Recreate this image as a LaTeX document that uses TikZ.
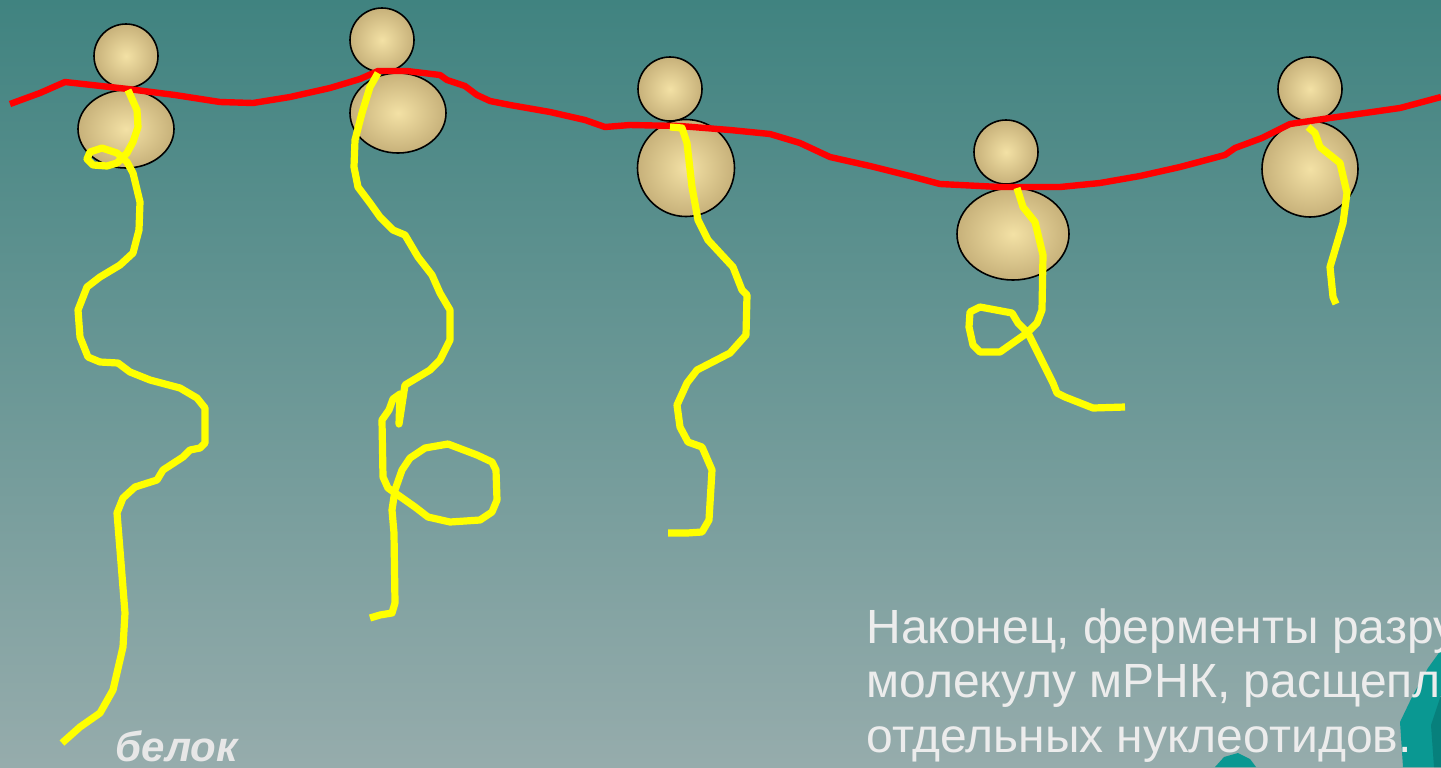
\documentclass[tikz,border=0pt]{standalone}
\usepackage{fontspec}
\setmainfont{Liberation Sans}
\usetikzlibrary{shapes.geometric}

\definecolor{bgtop}{RGB}{64,131,128}
\definecolor{bgbot}{RGB}{150,172,172}
\definecolor{ribolight}{RGB}{243,225,165}
\definecolor{ribodark}{RGB}{199,177,122}
\definecolor{mrna}{RGB}{255,0,0}
\definecolor{chain}{RGB}{255,255,0}
\definecolor{captext}{RGB}{236,236,236}
\definecolor{rockA}{RGB}{10,152,146}
\definecolor{rockB}{RGB}{7,128,124}

\tikzset{
  ribo/.style={ellipse, draw=black, line width=0.8pt, inner sep=0pt,
    inner color=ribolight, outer color=ribodark},
  subsmall/.style={ribo, minimum width=32pt, minimum height=32pt},
  mrnaline/.style={draw=mrna, line width=3.2pt, line join=round},
  peptide/.style={draw=chain, line width=3.6pt, line join=round},
  caption/.style={anchor=base west, inner sep=0pt, text=captext,
    font=\fontsize{24}{28}\selectfont},
  label/.style={anchor=base west, inner sep=0pt, text=captext!95!gray,
    font=\bfseries\itshape\fontsize{21}{25}\selectfont}
}

\begin{document}
\begin{tikzpicture}[x=0.5pt,y=-0.5pt]
\useasboundingbox (0,0) rectangle (1441,767);
\clip (0,0) rectangle (1441,767);
% background
\shade[top color=bgtop, bottom color=bgbot] (0,0) rectangle (1441,767);

% rocky shapes at the lower right
\fill[rockA] (1403,767) -- (1400,722) -- (1412,697) -- (1428,668) -- (1441,650) -- (1441,767) -- cycle;
\fill[rockB] (1434,767) -- (1431,725) -- (1441,695) -- (1441,767) -- cycle;
\fill[rockA] (1215,767) -- (1224,757) -- (1238,753) -- (1250,759) -- (1256,767) -- cycle;

% ribosomes: small and large subunits
\node[subsmall] (s1) at (126,56) {};
\node[ribo, minimum width=48pt, minimum height=39pt] (b1) at (126,129) {};
\node[subsmall] (s2) at (382,40) {};
\node[ribo, minimum width=48pt, minimum height=40pt] (b2) at (398,113) {};
\node[subsmall] (s3) at (670,89) {};
\node[ribo, minimum width=48.5pt, minimum height=48.5pt] (b3) at (686,168) {};
\node[subsmall] (s4) at (1006,152) {};
\node[ribo, minimum width=56pt, minimum height=46pt] (b4) at (1013,234) {};
\node[subsmall] (s5) at (1310,89) {};
\node[ribo, minimum width=48pt, minimum height=48pt] (b5) at (1310,169) {};

% mRNA strand
\draw[mrnaline] (10,104) -- (40,93) -- (65,82) -- (128,89) -- (175,95) -- (220,102)
  -- (253,103) -- (290,97) -- (330,88) -- (360,79) -- (378,71) -- (407,71) -- (440,75)
  -- (447,80) -- (465,86) -- (477,95) -- (490,101) -- (510,105) -- (550,112)
  -- (585,120) -- (605,127) -- (630,125) -- (680,126) -- (730,130) -- (770,134)
  -- (800,143) -- (830,157) -- (870,166) -- (910,176) -- (940,184) -- (1000,187)
  -- (1060,187) -- (1100,183) -- (1140,176) -- (1180,167) -- (1225,155)
  -- (1235,148) -- (1262,138) -- (1290,124) -- (1330,118) -- (1400,108) -- (1441,97);

% polypeptide chains
\draw[peptide] (128,90) -- (137,110) -- (138,127) -- (133,142) -- (127,153) -- (117,163)
  -- (107,166) -- (93,165) -- (87,159) -- (90,152) -- (102,148) -- (117,153)
  -- (127,162) -- (133,173) -- (140,202) -- (139,230) -- (133,253) -- (120,265)
  -- (100,277) -- (87,287) -- (78,310) -- (80,337) -- (88,357) -- (100,362)
  -- (118,363) -- (130,372) -- (150,380) -- (180,388) -- (197,398) -- (205,408)
  -- (205,443) -- (200,448) -- (190,450) -- (183,457) -- (163,470) -- (157,480)
  -- (135,487) -- (123,498) -- (117,513) -- (120,550) -- (125,613) -- (123,647)
  -- (113,690) -- (100,713) -- (80,727) -- (62,743);

\draw[peptide] (378,73) -- (370,87) -- (362,113) -- (355,140) -- (354,167) -- (358,187)
  -- (370,203) -- (380,217) -- (393,230) -- (405,235) -- (418,257) -- (432,275)
  -- (440,293) -- (450,310) -- (450,340) -- (440,360) -- (430,370) -- (405,385)
  -- (399,424) -- (400,394) -- (393,399) -- (389,410) -- (382,420) -- (383,477)
  -- (388,488) -- (398,495) -- (415,507) -- (428,517) -- (450,522) -- (480,520)
  -- (492,512) -- (497,500) -- (496,470) -- (492,462) -- (477,455) -- (448,444)
  -- (425,448) -- (410,458) -- (402,470) -- (395,490) -- (392,510) -- (394,533)
  -- (395,603) -- (392,613) -- (380,615) -- (370,618);

\draw[peptide] (670,127) -- (682,128) -- (687,143) -- (692,187) -- (698,220) -- (708,240)
  -- (733,267) -- (742,290) -- (747,295) -- (746,335) -- (730,353) -- (697,370)
  -- (687,383) -- (677,405) -- (680,427) -- (688,442) -- (702,447) -- (712,470)
  -- (709,520) -- (702,532) -- (687,533) -- (668,533);

\draw[peptide] (1017,188) -- (1023,207) -- (1035,222) -- (1043,255) -- (1042,310)
  -- (1037,323) -- (1027,333) -- (1000,352) -- (980,352) -- (973,345) -- (969,327)
  -- (970,312) -- (980,307) -- (1012,313) -- (1018,323) -- (1028,333) -- (1040,357)
  -- (1053,383) -- (1057,393) -- (1065,397) -- (1093,408) -- (1125,407);

\draw[peptide] (1308,127) -- (1315,133) -- (1320,147) -- (1340,163) -- (1347,193)
  -- (1343,223) -- (1330,267) -- (1333,297) -- (1336,304);

% texts
\node[label] (protein) at (115,761) {белок};
\node[caption] (line1) at (866,643) {Наконец, ферменты разрушают};
\node[caption] (line2) at (866,697) {молекулу мРНК, расщепляя};
\node[caption] (line3) at (866,752) {отдельных нуклеотидов.};
\end{tikzpicture}
\end{document}
